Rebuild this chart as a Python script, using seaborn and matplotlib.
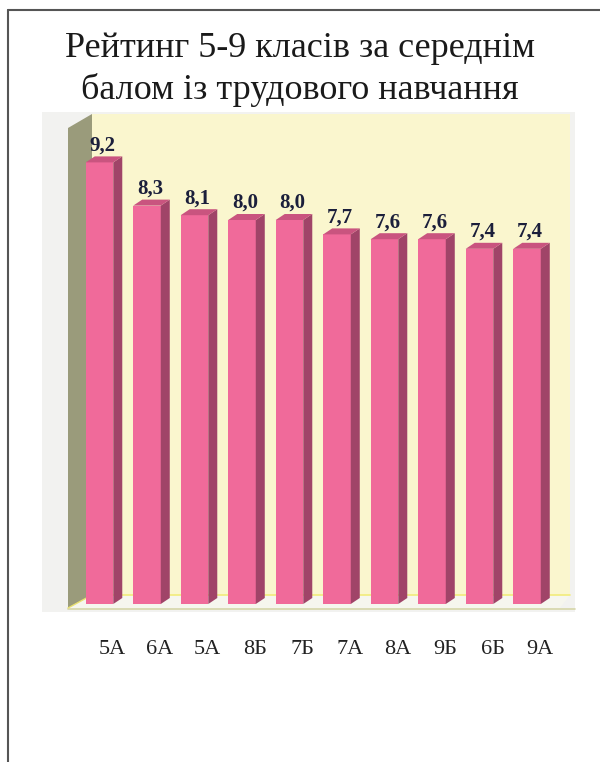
import numpy as np
import pandas as pd
import matplotlib
matplotlib.use("Agg")
import matplotlib.pyplot as plt
import matplotlib.transforms as mtransforms
from matplotlib.patches import Polygon, Rectangle
import seaborn as sns

# DATA
classes = ["5А", "6А", "5А", "8Б", "7Б", "7А", "8А", "9Б", "6Б", "9А"]
scores = [9.2, 8.3, 8.1, 8.0, 8.0, 7.7, 7.6, 7.6, 7.4, 7.4]
title = "Рейтинг 5-9 класів за середнім\nбалом із трудового навчання"

# COLOURS
FRONT = "#F06A9A"
SIDE = "#A04468"
TOP = "#C9547F"
BACK_WALL = "#FAF6CE"
LEFT_WALL = "#9A9B7B"
PANEL = "#F2F2F0"

sns.set_theme(style="white")
plt.rcParams["font.family"] = ["Liberation Serif", "DejaVu Serif"]

df = pd.DataFrame({"pos": np.arange(len(classes)), "score": scores})

fig = plt.figure(figsize=(6, 7.62), dpi=100)

# background layer in pixel coordinates (frame, walls, floor)
bg = fig.add_axes([0, 0, 1, 1], zorder=0)
bg.set_xlim(0, 600)
bg.set_ylim(762, 0)
bg.axis("off")
bg.plot([8, 8], [10, 762], color="#555555", lw=1.5)
bg.plot([8, 600], [10, 10], color="#555555", lw=1.5)
bg.add_patch(Rectangle((42, 112), 533, 500, color=PANEL, lw=0))
bg.add_patch(Rectangle((92, 114), 478, 481, color=BACK_WALL, lw=0))
bg.add_patch(Polygon([(68, 128), (92, 114), (92, 595), (68, 608)], closed=True,
                     color=LEFT_WALL, lw=0))
bg.add_patch(Polygon([(68, 608), (92, 595), (570, 595), (560, 608)], closed=True,
                     color="#F6F6EE", lw=0))
bg.plot([92, 570], [595, 595], color="#F2EC7A", lw=1.2)
bg.plot([68, 575], [608.5, 608.5], color="#D6D6A8", lw=1.2)
bg.plot([68, 92], [608, 595], color="#E8E070", lw=1.0)

# bar axes: value 0 at pixel y=604, 48 px per unit, 47.5 px per bar
ax = fig.add_axes([68 / 600, (762 - 604) / 762, 507 / 600, 490 / 762], zorder=1)
ax.patch.set_alpha(0)
sns.barplot(data=df, x="pos", y="score", color=FRONT, saturation=1,
            width=0.58, edgecolor="none", ax=ax, zorder=3)
ax.set_xlim(-31.5 / 47.5, -31.5 / 47.5 + 507 / 47.5)
ax.set_ylim(0, 490 / 48)

dx = 9 / 47.5
dy = 6 / 48
for patch, val in zip(ax.patches, scores):
    x0 = patch.get_x()
    x1 = x0 + patch.get_width()
    h = patch.get_height()
    ax.add_patch(Polygon([(x1, 0), (x1 + dx, dy), (x1 + dx, h + dy), (x1, h)],
                         closed=True, color=SIDE, lw=0, zorder=3))
    ax.add_patch(Polygon([(x0, h), (x0 + dx, h + dy), (x1 + dx, h + dy), (x1, h)],
                         closed=True, color=TOP, lw=0, zorder=3))
    ax.text((x0 + x1) / 2 + dx / 3, h + dy + 0.02, f"{val:.1f}".replace(".", ","),
            ha="center", va="bottom", fontsize=15, fontweight="bold",
            color="#1B1F3B", zorder=4)

ax.set_xlabel("")
ax.set_ylabel("")
ax.set_yticks([])
ax.set_xticks(df["pos"])
ax.set_xticklabels(classes, fontsize=16, color="#222222")
ax.tick_params(axis="x", length=0, pad=26)
shift = mtransforms.ScaledTranslation(13 / 100, 0, fig.dpi_scale_trans)
for lbl in ax.get_xticklabels():
    lbl.set_transform(lbl.get_transform() + shift)
for s in ax.spines.values():
    s.set_visible(False)

fig.text(0.5, 1 - 32 / 762, title, ha="center", va="top", fontsize=26,
         color="#1a1a1a", linespacing=1.3)

fig.savefig("out.png", dpi=100)
